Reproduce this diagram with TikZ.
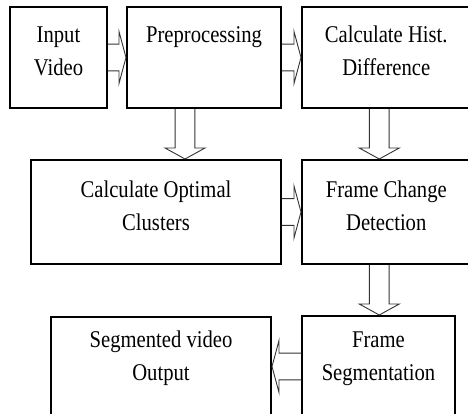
\documentclass[tikz,border=0pt]{standalone}
\usepackage{fontspec}
\setmainfont{Liberation Serif}[FakeStretch=0.86]
\usepackage{tikz}
\usetikzlibrary{arrows.meta,positioning,calc}

\begin{document}
\begin{tikzpicture}[
            x=1pt, y=1pt,
            box/.style={
                draw,
                rectangle,
                align=center,
                line width=2pt,
                font=\fontsize{24}{33}\selectfont,
                minimum height=101pt
            },
            oneline/.style={
                text height=20pt,
                text depth=49pt
            },
            twolines/.style={
                text height=53pt,
                text depth=16pt
            },
            % hollow block arrow: shaft half width, head half width, head length
            blockarrow/.style n args={3}{
                draw=black!80,
                line width=0.9pt,
                to path={
                    ($(\tikztostart)!#1!90:(\tikztotarget)$) --
                    ($($(\tikztotarget)!#3!(\tikztostart)$)!#1!-90:(\tikztostart)$) --
                    ($($(\tikztotarget)!#3!(\tikztostart)$)!#2!-90:(\tikztostart)$) --
                    (\tikztotarget) --
                    ($($(\tikztotarget)!#3!(\tikztostart)$)!#2!90:(\tikztostart)$) --
                    ($($(\tikztotarget)!#3!(\tikztostart)$)!#1!90:(\tikztostart)$) --
                    ($(\tikztostart)!#1!-90:(\tikztotarget)$)
                }
            },
            harrow/.style={blockarrow={13.4pt}{26pt}{7pt}},
            varrow/.style={blockarrow={9.9pt}{20pt}{11pt}}
            ]

            \fill[white] (0,0) rectangle (468,-414);
            \useasboundingbox (0,0) rectangle (468,-414);

            \node[box, twolines, minimum width=97pt] (input) at (58.5,-57.5)
            {Input\\Video};

            \node[box, oneline, minimum width=154pt, right=18pt of input] (prep)
            {Preprocessing};

            \node[box, twolines, minimum width=168.5pt, right=19pt of prep] (hist)
            {Calculate Hist.\\Difference};

            \node[box, twolines, minimum width=168.5pt, minimum height=104pt,
                below=50pt of hist] (fc)
            {Frame Change\\Detection};

            \node[box, twolines, minimum width=250pt, minimum height=104pt,
                left=19pt of fc] (clus)
            {Calculate Optimal\\Clusters};

            \node[box, twolines, text depth=26pt, minimum width=153pt,
                below right=50pt and 0pt of fc.south west] (fs)
            {Frame\\Segmentation};

            \node[box, twolines, text depth=26pt, minimum width=220pt,
                minimum height=100pt, left=29pt of fs] (out)
            {Segmented video\\Output};

            \draw[harrow] (input.east) to (prep.west);
            \draw[harrow] (prep.east) to (hist.west);
            \draw[harrow] (clus.east) to (fc.west);
            \draw[harrow] (fs.west) to (out.east);

            \draw[varrow]
            ([xshift=-19pt]prep.south) to
            ([xshift=-19pt]prep.south |- clus.north);

            \draw[varrow]
            ([xshift=-7pt]hist.south) to ([xshift=-7pt]fc.north);

            \draw[varrow]
            ([xshift=-7pt]fc.south) to
            ([xshift=-7pt]fc.south |- fs.north);

\end{tikzpicture}
\end{document}
